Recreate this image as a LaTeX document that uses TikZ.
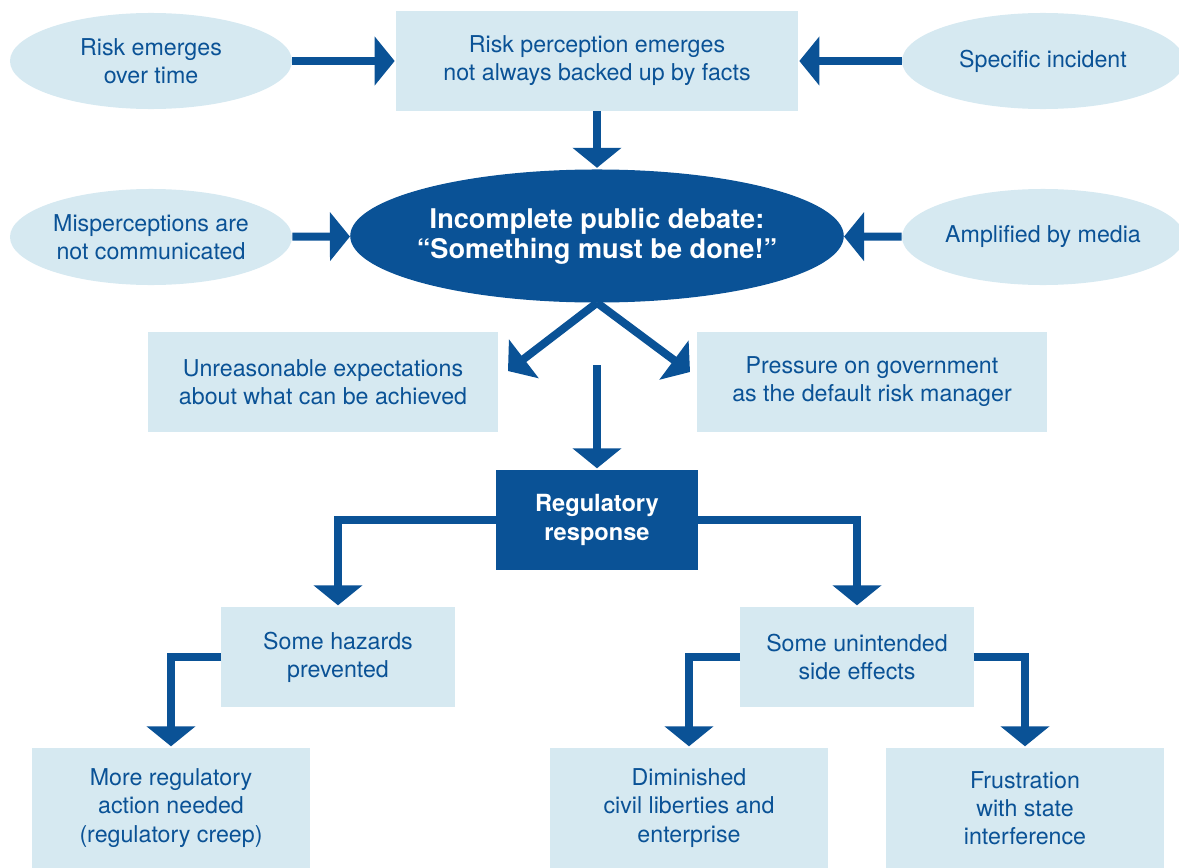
\documentclass[tikz,border=0pt]{standalone}
\usepackage{fontspec}
\setmainfont{TeX Gyre Heros}
\usetikzlibrary{arrows.meta,shapes.geometric}
\definecolor{darkblue}{RGB}{10,82,150}
\definecolor{paleblue}{RGB}{214,233,241}
\tikzset{
  box/.style={fill=paleblue,text=darkblue,align=center,
    font=\fontsize{16.5}{20}\selectfont},
  oval/.style={ellipse,fill=paleblue,text=darkblue,align=center,inner sep=0pt,
    inner xsep=-4pt,minimum width=7.05cm,minimum height=2.4cm,
    font=\fontsize{16.5}{20}\selectfont},
  arr/.style={draw=darkblue,line width=0.2cm,line join=miter,
    -{Triangle[width=1.2cm,length=0.5cm]},shorten >=1pt}
}

\begin{document}
\begin{tikzpicture}[x=0.025cm,y=-0.025cm]
            \clip (0,0) rectangle (1179,868);
            \node [oval] (emerge) at (151,61) {Risk emerges\\over time};
            \node [box,minimum width=10.03cm,minimum height=2.5cm] (percep) at (597,61)
                {Risk perception emerges\\not always backed up by facts};
            \node [oval] (incident) at (1043,61) {Specific incident};
            \node [oval] (misper) at (151,237) {Misperceptions are\\not communicated};
            \node [ellipse,fill=darkblue,text=white,align=center,inner sep=0pt,
                inner xsep=-4pt,minimum width=12.125cm,minimum height=3.325cm,
                font=\fontsize{19.3}{21.5}\selectfont\bfseries] (debate) at (597,236)
                {Incomplete public debate:\\“Something must be done!”};
            \node [oval] (media) at (1043,237) {Amplified by media};
            \node [box,minimum width=8.75cm,minimum height=2.5cm] (expect) at (323,382)
                {Unreasonable expectations\\about what can be achieved};
            \node [box,minimum width=8.75cm,minimum height=2.5cm] (pressure) at (872,382)
                {Pressure on government\\as the default risk manager};
            \node [box,fill=darkblue,text=white,minimum width=5.025cm,minimum height=2.5cm,
                font=\fontsize{16.8}{20}\selectfont\bfseries] (reg) at (597,520)
                {Regulatory\\response};
            \node [box,minimum width=5.825cm,minimum height=2.5cm] (hazard) at (338,657)
                {Some hazards\\prevented};
            \node [box,minimum width=5.825cm,minimum height=2.5cm] (side) at (857,657)
                {Some unintended\\side effects};
            \node [box,minimum width=6.925cm,minimum height=3cm] (creep) at (171,808)
                {More regulatory\\action needed\\(regulatory creep)};
            \node [box,minimum width=6.925cm,minimum height=3cm] (civil) at (689,808)
                {Diminished\\civil liberties and\\enterprise};
            \node [box,minimum width=6.925cm,minimum height=3cm] (frust) at (1025,808)
                {Frustration\\with state\\interference};
            \coordinate (tipL) at (508,371);
            \coordinate (tipR) at (690,372);
            \coordinate (mid) at (597,365);
            \draw [arr] (emerge) -- (percep);
            \draw [arr] (incident) -- (percep);
            \draw [arr] (percep) -- (debate);
            \draw [arr,shorten >=0pt] (misper) -- (debate);
            \draw [arr,shorten >=0pt] (media) -- (debate);
            \draw [arr,shorten >=0pt] (debate.south) -- (tipL);
            \draw [arr,shorten >=0pt] (debate.south) -- (tipR);
            \draw [arr] (mid) -- (reg);
            \draw [arr] (reg.west) -| (hazard.north);
            \draw [arr] (reg.east) -| (side.north);
            \draw [arr] (hazard.west) -| (creep.north);
            \draw [arr] (side.west) -| (civil.north);
            \draw [arr] (side.east) -| (frust.north);
        \end{tikzpicture}
\end{document}
